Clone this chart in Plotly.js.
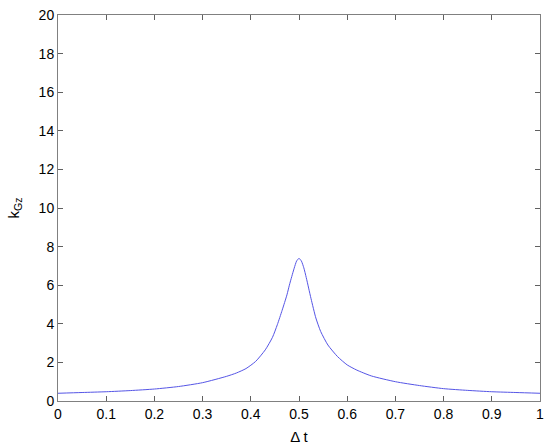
<!DOCTYPE html>
<html>
<head>
<meta charset="utf-8">
<script src="https://cdn.plot.ly/plotly-3.0.1.min.js"></script>
<style>html,body{margin:0;padding:0;background:#fff;}#chart{width:550px;height:448px;}</style>
</head>
<body>
<div id="chart"></div>
<script>
const deltaT = [0, 0.05, 0.1, 0.15, 0.2, 0.25, 0.3, 0.35, 0.37, 0.39, 0.41, 0.43, 0.445, 0.455, 0.465, 0.475, 0.48, 0.485, 0.49, 0.495, 0.5, 0.505, 0.51, 0.515, 0.52, 0.525, 0.535, 0.545, 0.56, 0.58, 0.6, 0.62, 0.65, 0.7, 0.75, 0.8, 0.85, 0.9, 0.95, 1.0];
const kGz = [0.40, 0.44, 0.48, 0.54, 0.62, 0.75, 0.95, 1.28, 1.45, 1.68, 2.05, 2.65, 3.3, 3.95, 4.7, 5.5, 6.0, 6.45, 6.88, 7.25, 7.39, 7.25, 6.9, 6.4, 5.85, 5.3, 4.3, 3.6, 2.9, 2.3, 1.87, 1.6, 1.3, 1.0, 0.8, 0.64, 0.55, 0.48, 0.44, 0.40];
const xTicks = [0, 0.1, 0.2, 0.3, 0.4, 0.5, 0.6, 0.7, 0.8, 0.9, 1];
const xTickText = ['0', '0.1', '0.2', '0.3', '0.4', '0.5', '0.6', '0.7', '0.8', '0.9', '1'];
const yTicks = [0, 2, 4, 6, 8, 10, 12, 14, 16, 18, 20];

const axisCommon = {
  showgrid: false, zeroline: false, showline: true, mirror: 'ticks',
  linecolor: '#808080', linewidth: 1, ticks: 'inside', ticklen: 5,
  tickcolor: '#606060', tickwidth: 1,
  tickfont: {family: 'Liberation Sans, Arial, sans-serif', size: 14, color: '#000'}
};

const data = [{
  x: deltaT, y: kGz, type: 'scatter', mode: 'lines',
  line: {color: 'rgb(85,85,230)', width: 1, shape: 'spline', smoothing: 0.6}
}];

const layout = {
  width: 550, height: 448,
  margin: {l: 58, r: 10, t: 15, b: 47},
  paper_bgcolor: '#fff', plot_bgcolor: '#fff',
  showlegend: false,
  xaxis: Object.assign({}, axisCommon, {
    range: [0, 1], tickvals: xTicks, ticktext: xTickText,
    title: {text: 'Δ t', font: {family: 'Liberation Sans, Arial, sans-serif', size: 15, color: '#000'}, standoff: 10}
  }),
  yaxis: Object.assign({}, axisCommon, {
    range: [0, 20], tickvals: yTicks,
    title: {text: 'k<sub>Gz</sub>', font: {family: 'Liberation Sans, Arial, sans-serif', size: 15, color: '#000'}, standoff: 15}
  })
};

Plotly.newPlot('chart', data, layout, {displayModeBar: false, staticPlot: true});
</script>
</body>
</html>
